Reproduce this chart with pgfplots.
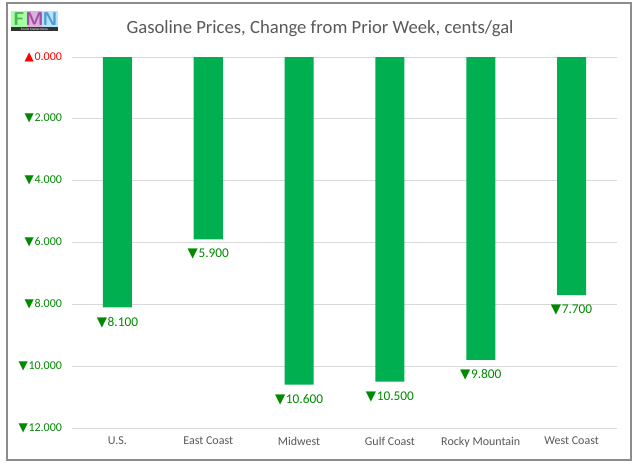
\documentclass[border=0pt]{standalone}
\usepackage{pgfplots}
\pgfplotsset{compat=1.18}
\usepackage{fontspec}
\setmainfont{Carlito}
\newfontfamily\sym{DejaVu Sans}
\definecolor{barg}{HTML}{00B050}
\definecolor{lblg}{HTML}{008A00}
\definecolor{txtgray}{HTML}{595959}
\definecolor{gridc}{HTML}{D9D9D9}
\definecolor{framec}{HTML}{8C8C8C}
\newcommand{\dn}{{\sym ▼}\kern0.5pt}
\newcommand{\up}{{\sym ▲}\kern0.5pt}
\begin{document}
\begin{tikzpicture}
\useasboundingbox (0,0) rectangle (479.25pt,351pt);
\fill[white] (0,0) rectangle (479.25pt,351pt);
\draw[framec, line width=0.9pt] (5.25pt,6pt) rectangle (473.25pt,348.75pt);
% logo
\fill[green!35!white] (8.25pt,330.75pt) rectangle (20pt,342.75pt);
\fill[violet!30!white] (20pt,330.75pt) rectangle (31.75pt,342.75pt);
\fill[cyan!30!white] (31.75pt,330.75pt) rectangle (43.5pt,342.75pt);
\node[font=\sffamily\bfseries\fontsize{14}{14}\selectfont, text={green!60!black!70!white}, inner sep=0] at (14.1pt,336.75pt) {F};
\node[font=\sffamily\bfseries\fontsize{14}{14}\selectfont, text={violet!70!white}, inner sep=0] at (25.9pt,336.75pt) {M};
\node[font=\sffamily\bfseries\fontsize{14}{14}\selectfont, text={cyan!60!blue!70!white}, inner sep=0] at (37.6pt,336.75pt) {N};
\fill[black!80] (8.25pt,327.75pt) rectangle (43.5pt,330.75pt);
\node[font=\fontsize{2.5}{2.5}\selectfont, text=white, inner sep=0] at (25.9pt,329.25pt) {Fonds Market News};
% title
\node[font=\fontsize{14}{16}\selectfont, text=txtgray, anchor=base] at (240pt,325.5pt) {Gasoline Prices, Change from Prior Week, cents/gal};
\begin{axis}[
  at={(54pt,30pt)}, anchor=south west,
  scale only axis,
  width=408.75pt, height=278.25pt,
  ybar, bar width=21.75pt,
  y dir=reverse,
  ymin=0, ymax=12,
  xmin=-0.5, xmax=5.5,
  axis line style={draw=none},
  major tick length=0pt,
  ymajorgrids, grid style={gridc, line width=0.75pt},
  xtick=data,
  xticklabels={U.S., East Coast, Midwest, Gulf Coast, Rocky Mountain, West Coast},
  xticklabel style={font=\fontsize{9}{10}\selectfont, text=txtgray, yshift=-3pt},
  ytick={0,2,4,6,8,10,12},
  yticklabels={\textcolor{red}{\up0.000}, \dn2.000, \dn4.000, \dn6.000, \dn8.000, \dn10.000, \dn12.000},
  yticklabel style={font=\fontsize{9}{10}\selectfont, text=lblg, xshift=-4pt},
  nodes near coords={\dn\pgfmathprintnumber[fixed,precision=3,fixed zerofill]{\pgfplotspointmeta}},
  nodes near coords align=center,
  every node near coord/.append style={font=\fontsize{10}{11}\selectfont, text=lblg, yshift=-11.25pt},
  /pgf/number format/assume math mode=true,
  clip=false,
]
\addplot[fill=barg, draw=none] coordinates {(0,8.1) (1,5.9) (2,10.6) (3,10.5) (4,9.8) (5,7.7)};
\end{axis}
\end{tikzpicture}
\end{document}
